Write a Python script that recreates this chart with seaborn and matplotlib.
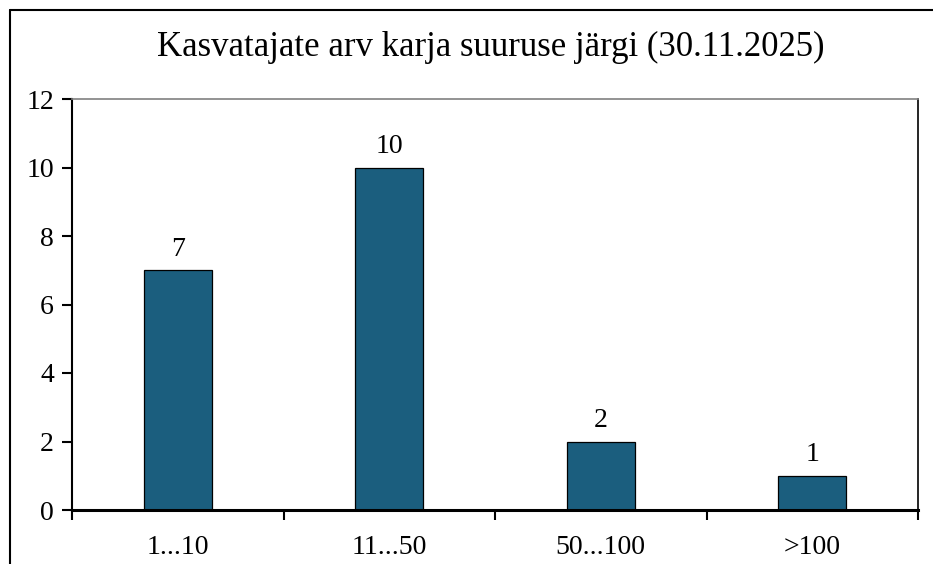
import pandas as pd
import matplotlib.pyplot as plt
import seaborn as sns
from matplotlib.lines import Line2D

categories = ["1...10", "11...50", "50...100", ">100"]
counts = [7, 10, 2, 1]
title = "Kasvatajate arv karja suuruse järgi (30.11.2025)"

df = pd.DataFrame({"size": categories, "count": counts})

sns.set_style("white")
plt.rcParams["font.family"] = ["Liberation Serif", "DejaVu Serif"]
plt.rcParams["text.color"] = "black"
plt.rcParams["xtick.color"] = "black"
plt.rcParams["ytick.color"] = "black"

fig = plt.figure(figsize=(9.33, 5.64), dpi=100)
ax = fig.add_axes([72 / 933, 54 / 564, 846 / 933, 411 / 564])

sns.barplot(data=df, x="size", y="count", color="#1b5e7e", saturation=1,
            width=0.32, edgecolor="black", linewidth=0.9, ax=ax)

for i, v in enumerate(counts):
    ax.annotate(str(v), (i, v), xytext=(0, 6), textcoords="offset points",
                ha="center", va="bottom", fontsize=20, color="black")

ax.set_xlim(-0.5, len(categories) - 0.5)
ax.set_ylim(0, 12)
ax.set_yticks(range(0, 13, 2))
ax.set_xticks([i - 0.5 for i in range(len(categories) + 1)])
ax.set_xticklabels([])
ax.set_xticks(range(len(categories)), minor=True)
ax.set_xticklabels(categories, minor=True)
ax.tick_params(axis="x", which="major", direction="out", length=7, width=1.5,
               bottom=True, color="black")
ax.tick_params(axis="x", which="minor", length=0, pad=18, labelsize=20,
               labelcolor="black")
ax.tick_params(axis="y", direction="out", length=7, width=1.5, left=True,
               labelsize=20, pad=6, color="black", labelcolor="black")
ax.set_xlabel("")
ax.set_ylabel("")

ax.spines["left"].set_linewidth(1.5)
ax.spines["left"].set_color("black")
ax.spines["bottom"].set_linewidth(2.2)
ax.spines["bottom"].set_color("black")
ax.spines["right"].set_linewidth(1.2)
ax.spines["right"].set_color("black")
ax.spines["top"].set_linewidth(1.2)
ax.spines["top"].set_color("#808080")

fig.text(491 / 933, 1 - 47 / 564, title, ha="center", va="center",
         fontsize=25, color="black")

# outer chart frame (cropped on right and bottom)
bx = 10 / 933
by = 1 - 10 / 564
fig.add_artist(Line2D([bx, bx], [0, by], transform=fig.transFigure, color="black", lw=1.5))
fig.add_artist(Line2D([bx, 1], [by, by], transform=fig.transFigure, color="black", lw=1.5))

fig.savefig("out.png", dpi=100)
